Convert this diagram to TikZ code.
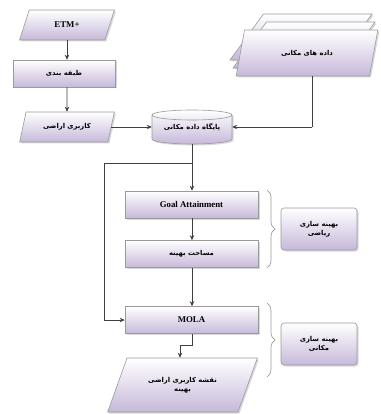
\documentclass[tikz,border=0pt]{standalone}
\usepackage{fontspec}
\setmainfont{Liberation Serif}
\newfontfamily\fa[Script=Arabic]{DejaVu Sans}
\TeXXeTstate=1
\usetikzlibrary{shapes.geometric,shadows,arrows.meta,decorations.pathreplacing}
\definecolor{lav}{HTML}{C6B9DA}
\definecolor{edge}{HTML}{9A9A9A}
\tikzset{
  boxfill/.style={shade, top color=white, bottom color=lav, draw=edge, line width=0.6pt,
    drop shadow={shadow xshift=1.5pt, shadow yshift=-1.5pt, fill=black!25, opacity=0.6}},
  rbox/.style={boxfill, rectangle, minimum width=133pt, minimum height=27pt, inner sep=1pt},
  para/.style={boxfill, trapezium, trapezium stretches=true, trapezium left angle=66, trapezium right angle=114, inner sep=1pt},
  lbl/.style={boxfill, rounded corners=3pt, minimum width=76pt, minimum height=42pt, align=center, inner sep=1pt},
  conn/.style={draw=black!75, line width=0.7pt},
  arr/.style={conn, -{Stealth[length=5pt,width=4.5pt]}},
  brc/.style={draw=edge, line width=0.7pt, decorate, decoration={brace, amplitude=8pt}},
  fatext/.style={font=\fa\bfseries\fontsize{6.8}{9.5}\selectfont},
  entext/.style={font=\bfseries\fontsize{8.8}{10}\selectfont}
}
\begin{document}
\begin{tikzpicture}[x=1pt,y=-1pt]
\useasboundingbox (0,0) rectangle (380,414);
% left column
\node[para, minimum width=95pt, minimum height=30pt, entext] (etm) at (67,25) {ETM+};
\node[rbox, minimum width=102pt, minimum height=27pt, fatext] (cls) at (64,73.5) {\beginR طبقه بندی\endR};
\node[para, minimum width=95pt, minimum height=30pt, fatext] (lu) at (67,127) {\beginR کاربری اراضی\endR};
% stack of spatial data
\node[para, minimum width=142pt, minimum height=46pt] (sd3) at (301,37) {};
\node[para, minimum width=142pt, minimum height=46pt] (sd2) at (304,45) {};
\node[para, minimum width=142pt, minimum height=46pt, fatext] (sd) at (307,53) {\beginR داده های مکانی\endR};
% database cylinder
\path[boxfill] (152,115) -- (152,139) arc[start angle=180, end angle=0, x radius=40, y radius=5]
  -- (232,115) arc[start angle=0, end angle=-180, x radius=40, y radius=5] -- cycle;
\draw[draw=edge, line width=0.6pt] (152,115) arc[start angle=180, end angle=0, x radius=40, y radius=5];
\node[minimum width=80pt, minimum height=34pt, inner sep=0pt, fatext] (db) at (192,127) {\beginR پایگاه داده مکانی\endR};
% central column
\node[rbox, entext] (goal) at (191.5,204.5) {Goal Attainment};
\node[rbox, fatext] (area) at (191.5,254) {\beginR مساحت بهینه\endR};
\node[rbox, entext] (mola) at (191.5,320) {MOLA};
\node[para, minimum width=151pt, minimum height=54pt, align=center, fatext, trapezium left angle=56, trapezium right angle=124] (out) at (182.5,385) {\beginR نقشه کاربری اراضی\endR\\\beginR بهینه\endR};
% labels
\node[lbl, fatext] (l1) at (319,229) {\beginR بهینه سازی\endR\\\beginR ریاضی\endR};
\node[lbl, fatext] (l2) at (319,344) {\beginR بهینه سازی\endR\\\beginR مکانی\endR};
\draw[brc] (267,190) -- (267,268);
\draw[brc] (267,303) -- (267,377);
% connectors
\coordinate (sc) at (312,127);
\coordinate (j) at (192,163);
\coordinate (lft) at (104,163);
\coordinate (oc) at (180,345);
\draw[arr] (etm.south) -- (etm.south |- cls.north);
\draw[arr] (cls.south -| etm.south) -- (lu.north);
\draw[arr] (lu.east) -- (lu.east -| db.west);
\draw[conn] (sc |- sd.south) -- (sc);
\draw[arr] (sc) -- (db.east);
\draw[conn] (db.south) -- (j);
\draw[arr] (j) -- (j |- goal.north);
\draw[arr] (j) -- (lft) |- (mola.west);
\draw[arr] (goal.south -| j) -- (j |- area.north);
\draw[arr] (area.south -| j) -- (j |- mola.north);
\draw[conn] (mola.south -| j) |- (oc);
\draw[arr] (oc) -- (oc |- out.north);
\end{tikzpicture}
\end{document}
